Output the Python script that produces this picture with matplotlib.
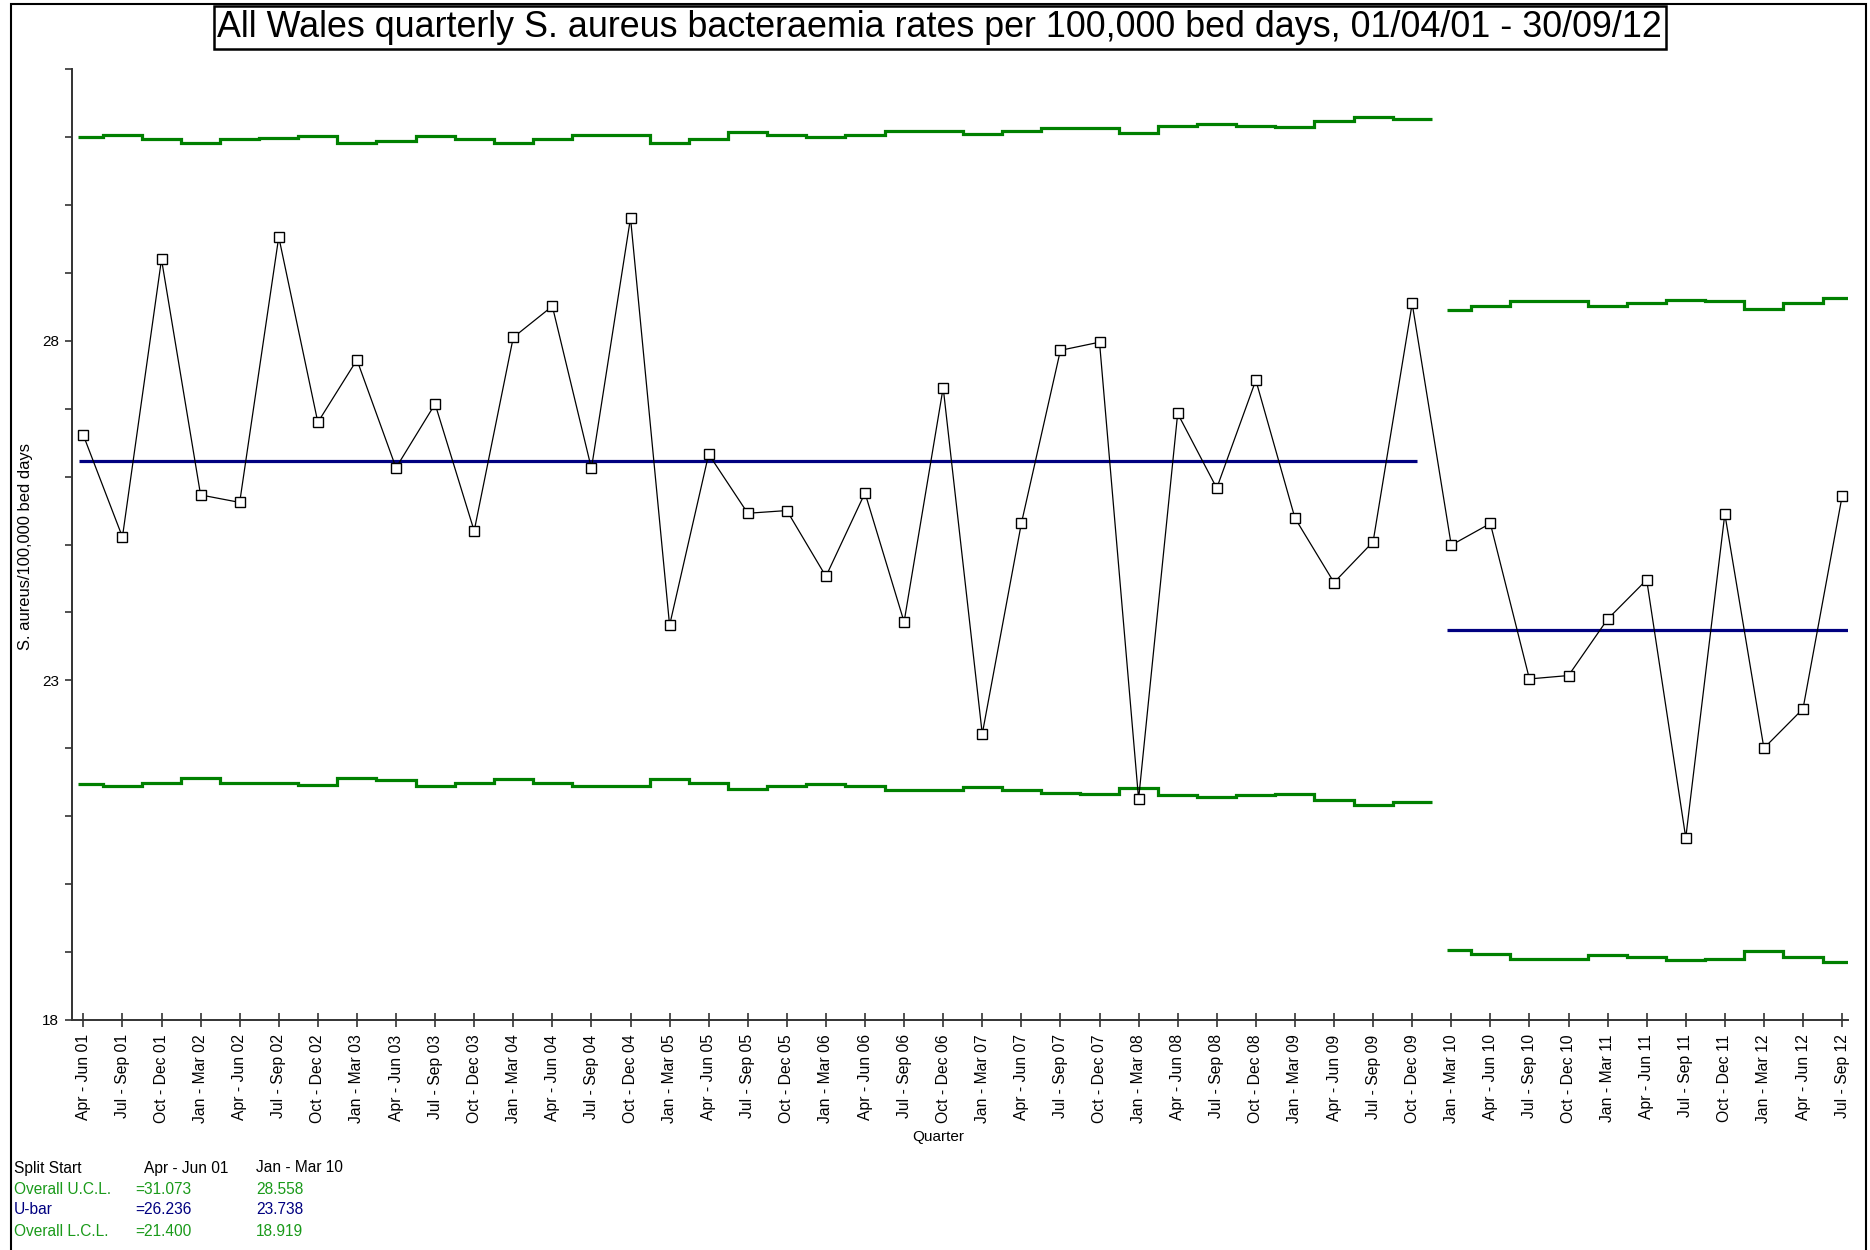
import numpy as np
import matplotlib
matplotlib.use("Agg")
import matplotlib.pyplot as plt
from matplotlib.patches import Rectangle

plt.rcParams['font.family'] = ['Liberation Sans', 'DejaVu Sans']

quarters = [
    'Apr - Jun 01', 'Jul - Sep 01', 'Oct - Dec 01', 'Jan - Mar 02',
    'Apr - Jun 02', 'Jul - Sep 02', 'Oct - Dec 02', 'Jan - Mar 03',
    'Apr - Jun 03', 'Jul - Sep 03', 'Oct - Dec 03', 'Jan - Mar 04',
    'Apr - Jun 04', 'Jul - Sep 04', 'Oct - Dec 04', 'Jan - Mar 05',
    'Apr - Jun 05', 'Jul - Sep 05', 'Oct - Dec 05', 'Jan - Mar 06',
    'Apr - Jun 06', 'Jul - Sep 06', 'Oct - Dec 06', 'Jan - Mar 07',
    'Apr - Jun 07', 'Jul - Sep 07', 'Oct - Dec 07', 'Jan - Mar 08',
    'Apr - Jun 08', 'Jul - Sep 08', 'Oct - Dec 08', 'Jan - Mar 09',
    'Apr - Jun 09', 'Jul - Sep 09', 'Oct - Dec 09', 'Jan - Mar 10',
    'Apr - Jun 10', 'Jul - Sep 10', 'Oct - Dec 10', 'Jan - Mar 11',
    'Apr - Jun 11', 'Jul - Sep 11', 'Oct - Dec 11', 'Jan - Mar 12',
    'Apr - Jun 12', 'Jul - Sep 12',
]

rates = [26.61, 25.11, 29.20, 25.73, 25.62, 29.53, 26.80, 27.72, 26.13, 27.07,
         25.20, 28.05, 28.51, 26.12, 29.81, 23.81, 26.33, 25.46, 25.50, 24.53,
         25.76, 23.86, 27.31, 22.21, 25.31, 27.86, 27.98, 21.25, 26.93, 25.83,
         27.42, 25.39, 24.44, 25.04, 28.55, 24.99, 25.31, 23.02, 23.07, 23.90,
         24.48, 20.68, 25.45, 22.00, 22.58, 25.71]

# control limits, split 1 (Apr-Jun 01 .. Oct-Dec 09)
ucl_1 = [31.00, 31.03, 30.98, 30.91, 30.98, 30.99, 31.01, 30.91, 30.94, 31.02,
         30.98, 30.92, 30.98, 31.03, 31.03, 30.92, 30.98, 31.07, 31.03, 31.00,
         31.03, 31.09, 31.09, 31.04, 31.09, 31.13, 31.14, 31.06, 31.16, 31.19,
         31.16, 31.15, 31.24, 31.30, 31.27]
lcl_1 = [21.47, 21.44, 21.49, 21.56, 21.49, 21.48, 21.46, 21.56, 21.53, 21.45,
         21.49, 21.55, 21.49, 21.44, 21.44, 21.55, 21.49, 21.40, 21.44, 21.47,
         21.44, 21.38, 21.38, 21.43, 21.38, 21.34, 21.33, 21.41, 21.31, 21.28,
         21.31, 21.32, 21.23, 21.17, 21.20]
ubar_1 = 26.236

# split 2 (Jan-Mar 10 .. Jul-Sep 12)
ucl_2 = [28.45, 28.51, 28.58, 28.58, 28.52, 28.56, 28.60, 28.58, 28.47, 28.56, 28.63]
lcl_2 = [19.03, 18.97, 18.90, 18.90, 18.96, 18.92, 18.88, 18.90, 19.01, 18.92, 18.85]
ubar_2 = 23.738

summary_rows = ['Split Start', 'Overall U.C.L.', 'U-bar', 'Overall L.C.L.']
summary_col1 = ['Apr - Jun 01', '=31.073', '=26.236', '=21.400']
summary_col2 = ['Jan - Mar 10', '28.558', '23.738', '18.919']

GREEN = '#008000'
NAVY = '#000080'

fig = plt.figure(figsize=(18.7, 12.5), dpi=100)
ax = fig.add_axes([0.0383, 0.1842, 0.9497, 0.7604])

x = np.arange(len(rates))
n1 = len(ucl_1)

edges_1 = np.concatenate([[-0.13], np.arange(0.5, n1 - 0.5), [n1 - 0.5]])
edges_2 = np.concatenate([[n1 - 0.12], np.arange(n1 + 0.5, len(rates) - 0.5), [len(rates) - 0.86]])

ax.stairs(ucl_1, edges_1, color=GREEN, lw=2.3, baseline=None)
ax.stairs(lcl_1, edges_1, color=GREEN, lw=2.3, baseline=None)
ax.stairs(ucl_2, edges_2, color=GREEN, lw=2.3, baseline=None)
ax.stairs(lcl_2, edges_2, color=GREEN, lw=2.3, baseline=None)

ax.hlines(ubar_1, -0.12, n1 - 0.87, color=NAVY, lw=2.3)
ax.hlines(ubar_2, n1 - 0.12, len(rates) - 0.86, color=NAVY, lw=2.3)

ax.plot(x, rates, color='black', lw=0.9, marker='s', markersize=7,
        markerfacecolor='white', markeredgecolor='black', markeredgewidth=1.0, zorder=5)

ax.set_xlim(-0.3, len(rates) - 0.86)
ax.set_ylim(18, 32)
ax.spines['top'].set_visible(False)
ax.spines['right'].set_visible(False)
ax.spines['left'].set_color('#333333')
ax.spines['bottom'].set_color('#333333')
ax.spines['left'].set_linewidth(1.4)
ax.spines['bottom'].set_linewidth(1.4)

ax.set_xticks(x)
ax.set_xticklabels(quarters, rotation=90, fontsize=11.3)
ax.tick_params(axis='x', direction='inout', length=10, width=1.2, pad=5.5, color='#333333')
ax.set_yticks([18, 23, 28])
ax.set_yticks(np.arange(18, 33, 1), minor=True)
ax.tick_params(axis='y', which='both', direction='out', length=5, width=1.2, pad=4,
               labelsize=11, color='#333333')

fig.text(0.0134, 0.563, 'S. aureus/100,000 bed days', rotation=90, ha='center', va='center', fontsize=11.9)
fig.text(0.502, 0.0905, 'Quarter', ha='center', va='center', fontsize=11)

fig.text(0.5026, 0.978,
         'All Wales quarterly S. aureus bacteraemia rates per 100,000 bed days, 01/04/01 - 30/09/12',
         ha='center', va='center', fontsize=25.8,
         bbox=dict(boxstyle='square,pad=0.1', fc='white', ec='black', lw=1.8))

row_y = [0.0656, 0.0488, 0.0320, 0.0152]
row_colors = ['black', '#1a9a1a', NAVY, '#1a9a1a']
for i in range(4):
    fig.text(0.0075, row_y[i], summary_rows[i], color=row_colors[i], fontsize=11.2, va='center')
    x1 = 0.0770 if i == 0 else 0.0722
    fig.text(x1, row_y[i], summary_col1[i], color=row_colors[i], fontsize=11.2, va='center')
    fig.text(0.1369, row_y[i], summary_col2[i], color=row_colors[i], fontsize=11.2, va='center')

# frame around the whole picture
fig.patches.append(Rectangle((0.006, -0.01), 0.992, 1.007, transform=fig.transFigure,
                             fill=False, ec='black', lw=1.5))

fig.savefig('out.png', dpi=100)
